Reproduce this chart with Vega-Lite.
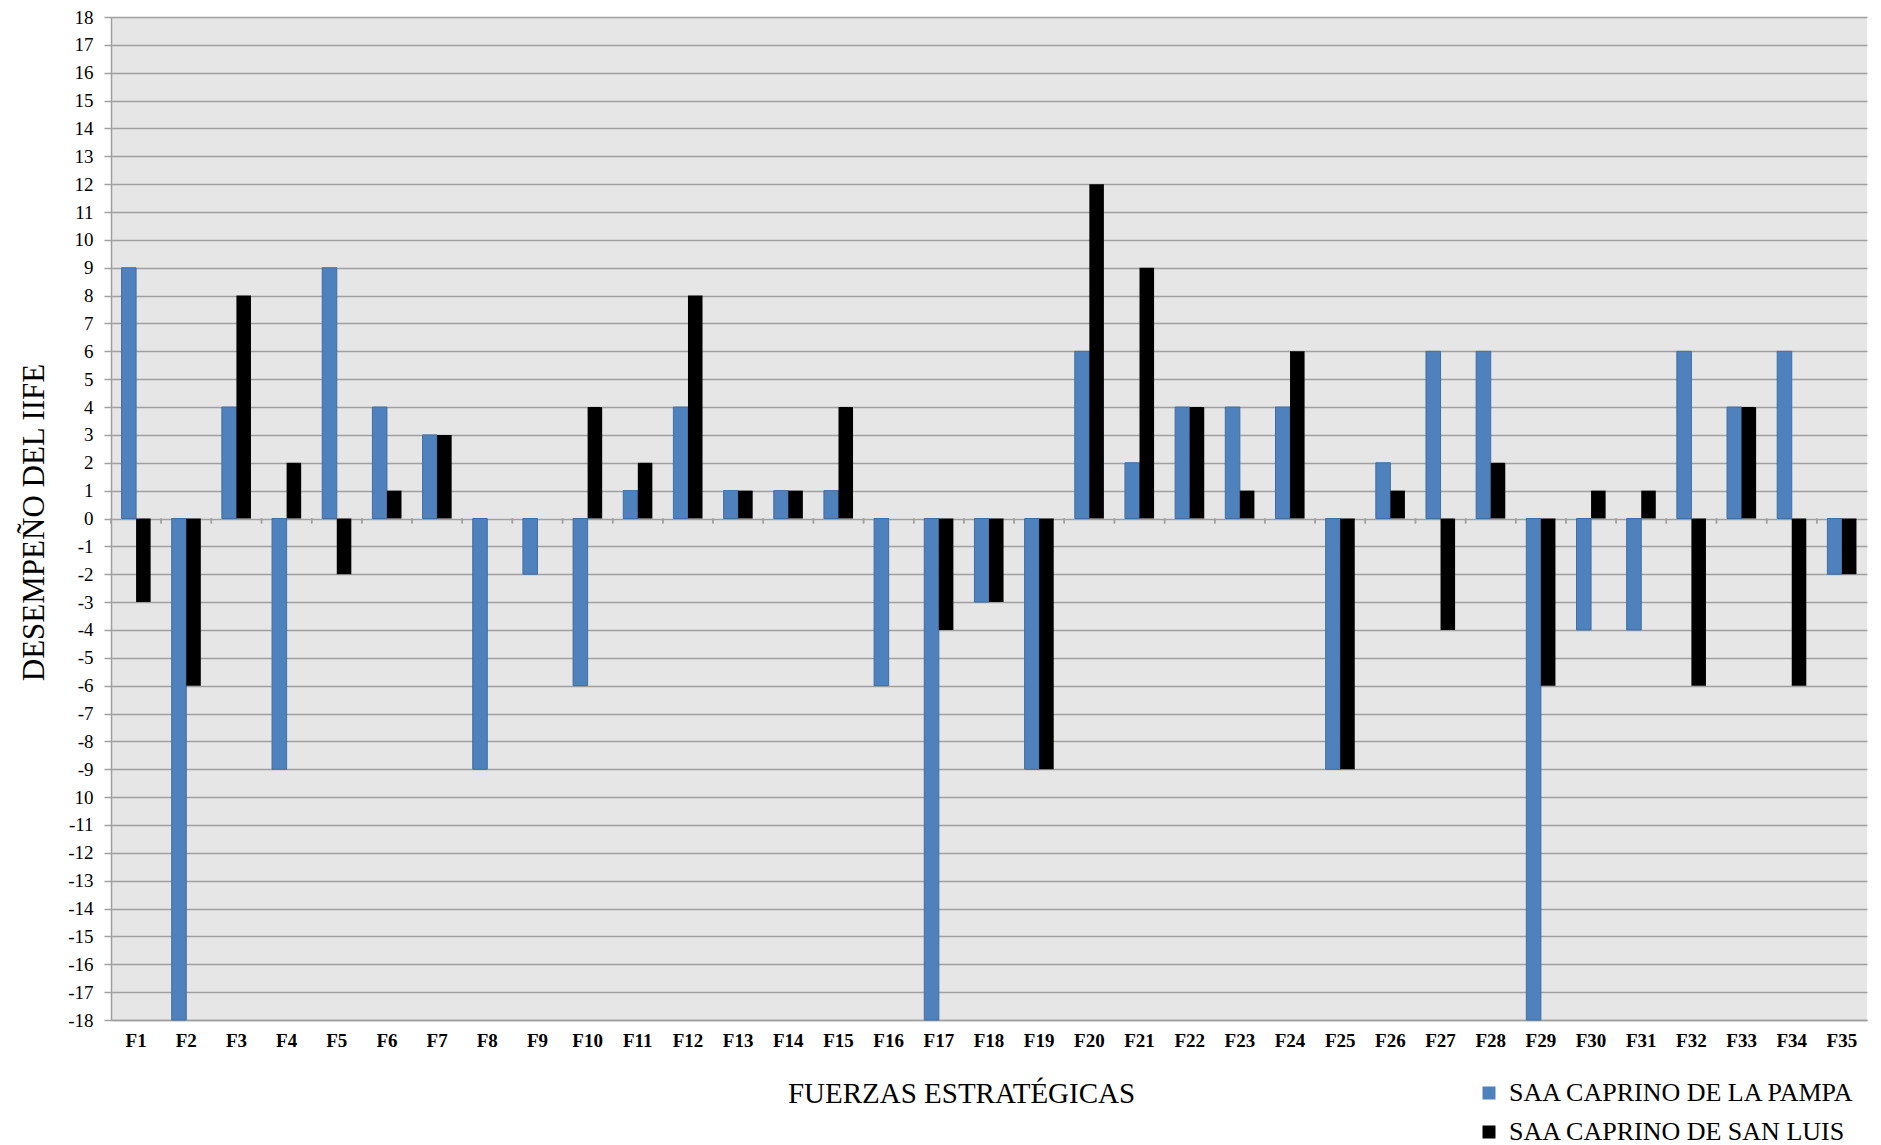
{
  "$schema": "https://vega.github.io/schema/vega-lite/v6.json",
  "width": 1756,
  "height": 1003,
  "autosize": {"type": "none"},
  "padding": {"left": 111, "top": 17, "right": 14, "bottom": 125},
  "background": "white",
  "config": {
    "view": {"fill": "#e6e6e6", "stroke": null},
    "font": "Liberation Serif",
    "axis": {"labelFont": "Liberation Serif", "titleFont": "Liberation Serif"},
    "legend": {"labelFont": "Liberation Serif", "titleFont": "Liberation Serif"}
  },
  "data": {
    "values": [
      {"f":"F1","s":"SAA CAPRINO DE LA PAMPA","v":9},{"f":"F1","s":"SAA CAPRINO DE SAN LUIS","v":-3},
      {"f":"F2","s":"SAA CAPRINO DE LA PAMPA","v":-18},{"f":"F2","s":"SAA CAPRINO DE SAN LUIS","v":-6},
      {"f":"F3","s":"SAA CAPRINO DE LA PAMPA","v":4},{"f":"F3","s":"SAA CAPRINO DE SAN LUIS","v":8},
      {"f":"F4","s":"SAA CAPRINO DE LA PAMPA","v":-9},{"f":"F4","s":"SAA CAPRINO DE SAN LUIS","v":2},
      {"f":"F5","s":"SAA CAPRINO DE LA PAMPA","v":9},{"f":"F5","s":"SAA CAPRINO DE SAN LUIS","v":-2},
      {"f":"F6","s":"SAA CAPRINO DE LA PAMPA","v":4},{"f":"F6","s":"SAA CAPRINO DE SAN LUIS","v":1},
      {"f":"F7","s":"SAA CAPRINO DE LA PAMPA","v":3},{"f":"F7","s":"SAA CAPRINO DE SAN LUIS","v":3},
      {"f":"F8","s":"SAA CAPRINO DE LA PAMPA","v":-9},{"f":"F8","s":"SAA CAPRINO DE SAN LUIS","v":0},
      {"f":"F9","s":"SAA CAPRINO DE LA PAMPA","v":-2},{"f":"F9","s":"SAA CAPRINO DE SAN LUIS","v":0},
      {"f":"F10","s":"SAA CAPRINO DE LA PAMPA","v":-6},{"f":"F10","s":"SAA CAPRINO DE SAN LUIS","v":4},
      {"f":"F11","s":"SAA CAPRINO DE LA PAMPA","v":1},{"f":"F11","s":"SAA CAPRINO DE SAN LUIS","v":2},
      {"f":"F12","s":"SAA CAPRINO DE LA PAMPA","v":4},{"f":"F12","s":"SAA CAPRINO DE SAN LUIS","v":8},
      {"f":"F13","s":"SAA CAPRINO DE LA PAMPA","v":1},{"f":"F13","s":"SAA CAPRINO DE SAN LUIS","v":1},
      {"f":"F14","s":"SAA CAPRINO DE LA PAMPA","v":1},{"f":"F14","s":"SAA CAPRINO DE SAN LUIS","v":1},
      {"f":"F15","s":"SAA CAPRINO DE LA PAMPA","v":1},{"f":"F15","s":"SAA CAPRINO DE SAN LUIS","v":4},
      {"f":"F16","s":"SAA CAPRINO DE LA PAMPA","v":-6},{"f":"F16","s":"SAA CAPRINO DE SAN LUIS","v":0},
      {"f":"F17","s":"SAA CAPRINO DE LA PAMPA","v":-18},{"f":"F17","s":"SAA CAPRINO DE SAN LUIS","v":-4},
      {"f":"F18","s":"SAA CAPRINO DE LA PAMPA","v":-3},{"f":"F18","s":"SAA CAPRINO DE SAN LUIS","v":-3},
      {"f":"F19","s":"SAA CAPRINO DE LA PAMPA","v":-9},{"f":"F19","s":"SAA CAPRINO DE SAN LUIS","v":-9},
      {"f":"F20","s":"SAA CAPRINO DE LA PAMPA","v":6},{"f":"F20","s":"SAA CAPRINO DE SAN LUIS","v":12},
      {"f":"F21","s":"SAA CAPRINO DE LA PAMPA","v":2},{"f":"F21","s":"SAA CAPRINO DE SAN LUIS","v":9},
      {"f":"F22","s":"SAA CAPRINO DE LA PAMPA","v":4},{"f":"F22","s":"SAA CAPRINO DE SAN LUIS","v":4},
      {"f":"F23","s":"SAA CAPRINO DE LA PAMPA","v":4},{"f":"F23","s":"SAA CAPRINO DE SAN LUIS","v":1},
      {"f":"F24","s":"SAA CAPRINO DE LA PAMPA","v":4},{"f":"F24","s":"SAA CAPRINO DE SAN LUIS","v":6},
      {"f":"F25","s":"SAA CAPRINO DE LA PAMPA","v":-9},{"f":"F25","s":"SAA CAPRINO DE SAN LUIS","v":-9},
      {"f":"F26","s":"SAA CAPRINO DE LA PAMPA","v":2},{"f":"F26","s":"SAA CAPRINO DE SAN LUIS","v":1},
      {"f":"F27","s":"SAA CAPRINO DE LA PAMPA","v":6},{"f":"F27","s":"SAA CAPRINO DE SAN LUIS","v":-4},
      {"f":"F28","s":"SAA CAPRINO DE LA PAMPA","v":6},{"f":"F28","s":"SAA CAPRINO DE SAN LUIS","v":2},
      {"f":"F29","s":"SAA CAPRINO DE LA PAMPA","v":-18},{"f":"F29","s":"SAA CAPRINO DE SAN LUIS","v":-6},
      {"f":"F30","s":"SAA CAPRINO DE LA PAMPA","v":-4},{"f":"F30","s":"SAA CAPRINO DE SAN LUIS","v":1},
      {"f":"F31","s":"SAA CAPRINO DE LA PAMPA","v":-4},{"f":"F31","s":"SAA CAPRINO DE SAN LUIS","v":1},
      {"f":"F32","s":"SAA CAPRINO DE LA PAMPA","v":6},{"f":"F32","s":"SAA CAPRINO DE SAN LUIS","v":-6},
      {"f":"F33","s":"SAA CAPRINO DE LA PAMPA","v":4},{"f":"F33","s":"SAA CAPRINO DE SAN LUIS","v":4},
      {"f":"F34","s":"SAA CAPRINO DE LA PAMPA","v":6},{"f":"F34","s":"SAA CAPRINO DE SAN LUIS","v":-6},
      {"f":"F35","s":"SAA CAPRINO DE LA PAMPA","v":-2},{"f":"F35","s":"SAA CAPRINO DE SAN LUIS","v":-2}
    ]
  },
  "encoding": {
    "x": {
      "field": "f", "type": "nominal", "sort": null,
      "scale": {"paddingInner": 0.42, "paddingOuter": 0.21},
      "axis": {
        "title": "FUERZAS  ESTRATÉGICAS",
        "titleFont": "Liberation Serif", "titleFontSize": 29, "titleFontWeight": "normal", "titleColor": "black",
        "titleX": 850, "titleY": 82, "titleAlign": "center", "titleBaseline": "alphabetic",
        "labelAngle": 0, "labelFont": "Liberation Serif", "labelFontSize": 19, "labelFontWeight": "bold",
        "labelColor": "black", "labelPadding": 11, "labelBaseline": "top",
        "ticks": false, "domainColor": "#a0a0a0", "domainWidth": 1.5, "grid": false
      }
    },
    "y": {
      "field": "v", "type": "quantitative",
      "scale": {"domain": [-18, 18], "nice": false},
      "axis": {
        "title": "DESEMPEÑO DEL IIFE",
        "titleFont": "Liberation Serif", "titleFontSize": 31, "titleFontWeight": "normal", "titleColor": "black",
        "titleAngle": -90, "titleX": -68, "titleY": 505, "titleAlign": "center", "titleBaseline": "alphabetic",
        "values": [-18,-17,-16,-15,-14,-13,-12,-11,-10,-9,-8,-7,-6,-5,-4,-3,-2,-1,0,1,2,3,4,5,6,7,8,9,10,11,12,13,14,15,16,17,18],
        "labelExpr": "datum.value == -10 ? '10' : '' + datum.value",
        "labelOverlap": false,
        "labelFont": "Liberation Serif", "labelFontSize": 19, "labelColor": "black",
        "tickSize": 7, "tickColor": "#a0a0a0", "tickWidth": 1.5, "labelPadding": 11,
        "domainColor": "#a0a0a0", "domainWidth": 1.5,
        "grid": true, "gridColor": "#a0a0a0", "gridWidth": 1.5
      }
    }
  },
  "layer": [
    {
      "mark": {"type": "bar", "strokeWidth": 1},
      "encoding": {
        "xOffset": {"field": "s", "type": "nominal", "sort": ["SAA CAPRINO DE LA PAMPA", "SAA CAPRINO DE SAN LUIS"]},
        "color": {
          "field": "s", "type": "nominal",
          "scale": {"domain": ["SAA CAPRINO DE LA PAMPA", "SAA CAPRINO DE SAN LUIS"], "range": ["#4f81bd", "#000000"]},
          "legend": {
            "title": null, "orient": "none", "legendX": 1365, "legendY": 1063,
            "symbolType": "square", "symbolSize": 169, "symbolStrokeWidth": 0,
            "labelFont": "Liberation Serif", "labelFontSize": 26, "labelColor": "black",
            "labelOffset": 7, "rowPadding": 13, "labelLimit": 700
          }
        },
        "stroke": {
          "field": "s", "type": "nominal",
          "scale": {"domain": ["SAA CAPRINO DE LA PAMPA", "SAA CAPRINO DE SAN LUIS"], "range": ["#3e6ea6", "transparent"]},
          "legend": null
        }
      }
    },
    {
      "mark": {"type": "rule", "color": "#a0a0a0", "strokeWidth": 1.5},
      "encoding": {
        "x": {"field": "f", "type": "nominal", "sort": null, "bandPosition": -0.362},
        "y": {"datum": 0},
        "y2": {"datum": -0.18}
      }
    }
  ]
}
